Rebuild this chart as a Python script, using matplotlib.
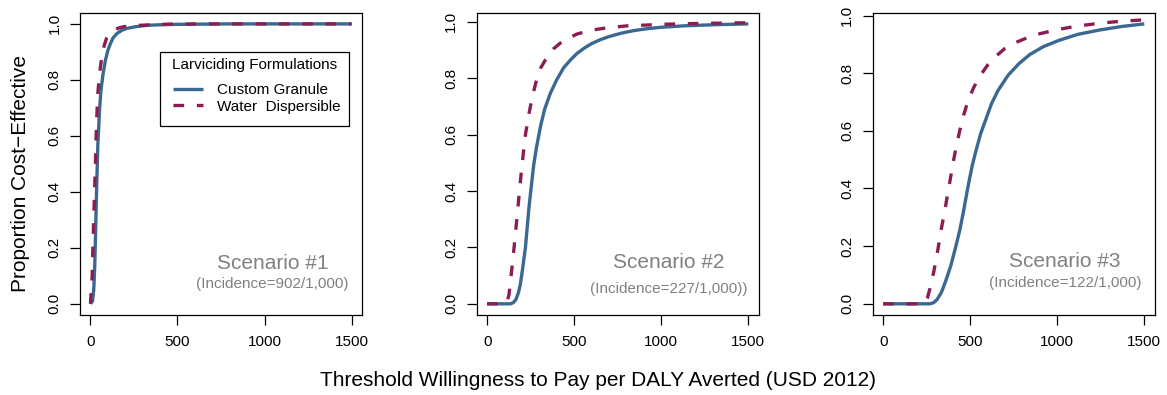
import matplotlib
matplotlib.use("Agg")
import matplotlib.pyplot as plt
from matplotlib.patches import Rectangle

plt.rcParams["font.family"] = ["Liberation Sans", "DejaVu Sans"]

# willingness-to-pay thresholds (USD) and proportion cost-effective, per scenario
s1_granule_x = [0, 12, 19, 25, 30, 35, 42, 52, 60, 71, 86, 100, 115, 130, 153, 180, 210, 260, 325, 450, 600, 800, 1500]
s1_granule_y = [0.0, 0.01, 0.05, 0.14, 0.27, 0.40, 0.56, 0.69, 0.76, 0.815, 0.87, 0.905, 0.93, 0.95, 0.966, 0.977, 0.984, 0.99, 0.995, 0.998, 0.999, 1.0, 1.0]
s1_water_x = [0, 10, 15, 23, 29, 34, 42, 54, 67, 80, 92, 110, 134, 160, 191, 235, 287, 450, 700, 1500]
s1_water_y = [0.0, 0.10, 0.22, 0.39, 0.51, 0.63, 0.75, 0.83, 0.89, 0.925, 0.948, 0.965, 0.977, 0.985, 0.99, 0.993, 0.995, 0.999, 1.0, 1.0]

s2_granule_x = [0, 134, 150, 165, 180, 191, 205, 220, 240, 255, 268, 285, 306, 330, 363, 400, 439, 480, 516, 560,
                600, 650, 700, 770, 841, 920, 1000, 1127, 1300, 1500]
s2_granule_y = [0.0, 0.0, 0.004, 0.015, 0.04, 0.07, 0.13, 0.20, 0.34, 0.425, 0.495, 0.56, 0.628, 0.69, 0.747, 0.795,
                0.837, 0.866, 0.888, 0.908, 0.923, 0.937, 0.948, 0.96, 0.969, 0.976, 0.981, 0.986, 0.99, 0.993]
s2_water_x = [0, 100, 112, 125, 143, 158, 172, 195, 208, 220, 239, 258, 280, 306, 344, 382, 420, 470, 516, 600,
              700, 803, 1032, 1250, 1500]
s2_water_y = [0.0, 0.0, 0.005, 0.03, 0.13, 0.22, 0.31, 0.46, 0.535, 0.60, 0.67, 0.73, 0.785, 0.835, 0.875, 0.905,
              0.925, 0.943, 0.957, 0.971, 0.98, 0.986, 0.992, 0.995, 0.997]

s3_granule_x = [0, 268, 290, 310, 335, 360, 390, 420, 440, 460, 475, 495, 512, 535, 560, 590, 623, 660, 718, 780,
                843, 920, 1015, 1120, 1245, 1370, 1500]
s3_granule_y = [0.0, 0.0, 0.004, 0.015, 0.04, 0.08, 0.135, 0.205, 0.255, 0.315, 0.365, 0.43, 0.48, 0.535, 0.59,
                0.64, 0.695, 0.74, 0.793, 0.833, 0.865, 0.892, 0.915, 0.935, 0.95, 0.962, 0.971]
s3_water_x = [0, 225, 240, 254, 270, 292, 315, 331, 350, 369, 385, 402, 420, 441, 460, 488, 520, 556, 600, 650,
              700, 760, 824, 900, 1000, 1100, 1226, 1360, 1500]
s3_water_y = [0.0, 0.0, 0.005, 0.02, 0.055, 0.115, 0.19, 0.25, 0.31, 0.375, 0.43, 0.49, 0.545, 0.603, 0.65, 0.705,
              0.75, 0.79, 0.828, 0.86, 0.886, 0.906, 0.922, 0.937, 0.951, 0.962, 0.972, 0.98, 0.985]

scenario_names = ["Scenario #1", "Scenario #2", "Scenario #3"]
incidence_labels = ["(Incidence=902/1,000)", "(Incidence=227/1,000))", "(Incidence=122/1,000)"]
series_names = ["Custom Granule", "Water  Dispersible"]
legend_title = "Larviciding Formulations"
x_ticks = [0, 500, 1000, 1500]
y_ticks = [0.0, 0.2, 0.4, 0.6, 0.8, 1.0]

granule_color = "#3a6891"
water_color = "#8c1d52"

panels = [
    (s1_granule_x, s1_granule_y, s1_water_x, s1_water_y),
    (s2_granule_x, s2_granule_y, s2_water_x, s2_water_y),
    (s3_granule_x, s3_granule_y, s3_water_x, s3_water_y),
]
lefts = [80, 476.7, 872.7]
label_y = [(0.145, 0.070), (0.148, 0.053), (0.146, 0.072)]

W, H = 1167, 395
fig = plt.figure(figsize=(W / 100, H / 100), dpi=100)

for i, (gx, gy, wx, wy) in enumerate(panels):
    ax = fig.add_axes([lefts[i] / W, 80 / H, 282 / W, 302.3 / H])
    ax.plot(gx, gy, color=granule_color, lw=2.4, solid_capstyle="butt",
            solid_joinstyle="round", label=series_names[0])
    ax.plot(wx, wy, color=water_color, lw=2.4, dashes=(3.2, 3.8),
            dash_capstyle="butt", dash_joinstyle="round", label=series_names[1])

    # R-style 4% padding around the plotted range
    ymax = max(gy)
    ax.set_xlim(-0.04 * 1500, 1.04 * 1500)
    ax.set_ylim(-0.04 * ymax, 1.04 * ymax)
    ax.set_xticks(x_ticks)
    ax.set_yticks(y_ticks)
    ax.set_yticklabels([f"{v:.1f}" for v in y_ticks], rotation=90, va="center")
    ax.tick_params(length=7.2, width=0.9, labelsize=11, direction="out")
    ax.tick_params(axis="x", pad=7)
    ax.tick_params(axis="y", pad=6)
    for sp in ax.spines.values():
        sp.set_linewidth(0.9)

    ax.text(1045, label_y[i][0], scenario_names[i], color="#808080",
            fontsize=15, ha="center", va="center")
    ax.text(1045, label_y[i][1], incidence_labels[i], color="#808080",
            fontsize=11, ha="center", va="center")

    if i == 0:
        # boxed legend with a centred title, laid out in axes fractions
        ax.add_patch(Rectangle((0.2837, 0.625), 0.6691, 0.246, transform=ax.transAxes,
                               fill=False, edgecolor="black", lw=0.9, zorder=5))
        ax.text(0.618, 0.827, legend_title, transform=ax.transAxes, fontsize=11,
                ha="center", va="center", zorder=6)
        ax.legend(loc="center left", bbox_to_anchor=(0.3287, 0.717), fontsize=11,
                  frameon=False, borderpad=0, borderaxespad=0, handlelength=2.0,
                  handletextpad=0.87, labelspacing=0.18)

fig.text(598 / W, 1 - 381 / H,
         "Threshold Willingness to Pay per DALY Averted (USD 2012)",
         fontsize=15, ha="center", va="center")
fig.text(21 / W, 1 - 173 / H, "Proportion Cost\u2212Effective",
         fontsize=15, rotation=90, ha="center", va="center")

fig.savefig("out.png", dpi=100)
